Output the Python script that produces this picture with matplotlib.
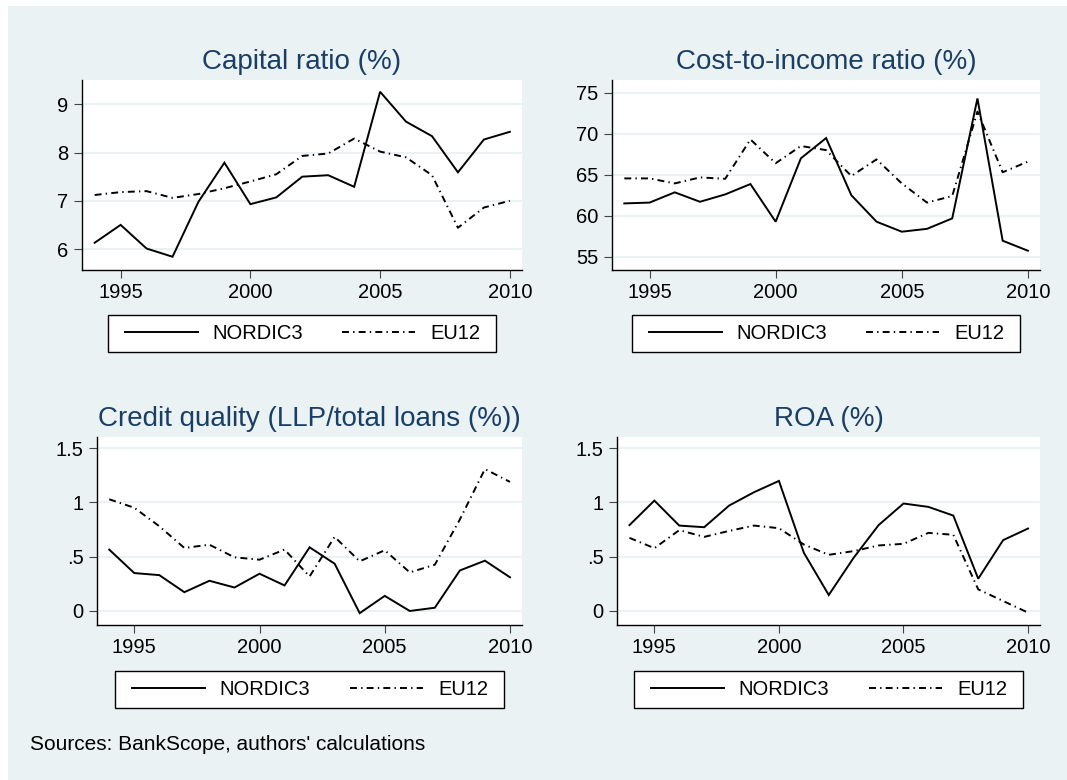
import numpy as np
import matplotlib
matplotlib.use("Agg")
import matplotlib.pyplot as plt
from matplotlib.lines import Line2D
from matplotlib.patches import Rectangle

# data
years = list(range(1994, 2011))

cap_nordic = [6.13, 6.50, 6.01, 5.84, 6.98, 7.79, 6.93, 7.07, 7.50, 7.53, 7.29, 9.26, 8.64, 8.34, 7.59, 8.27, 8.43]
cap_eu = [7.12, 7.18, 7.20, 7.06, 7.14, 7.26, 7.40, 7.55, 7.93, 7.98, 8.29, 8.02, 7.90, 7.53, 6.44, 6.86, 7.00]

cost_nordic = [61.5, 61.6, 62.85, 61.7, 62.6, 63.86, 59.27, 67.0, 69.47, 62.5, 59.27, 58.05, 58.4, 59.67, 74.3, 56.95, 55.73]
cost_eu = [64.55, 64.55, 63.94, 64.67, 64.5, 69.3, 66.4, 68.5, 68.0, 64.84, 66.87, 63.94, 61.6, 62.4, 72.7, 65.3, 66.6]

llp_nordic = [0.565, 0.349, 0.33, 0.173, 0.278, 0.216, 0.343, 0.235, 0.586, 0.435, -0.02, 0.139, 0.0, 0.03, 0.373, 0.463, 0.31]
llp_eu = [1.028, 0.95, 0.78, 0.58, 0.61, 0.494, 0.472, 0.565, 0.318, 0.682, 0.457, 0.559, 0.355, 0.426, 0.843, 1.306, 1.188]

roa_nordic = [0.79, 1.016, 0.786, 0.771, 0.97, 1.093, 1.197, 0.536, 0.147, 0.49, 0.79, 0.989, 0.958, 0.878, 0.297, 0.652, 0.759]
roa_eu = [0.673, 0.578, 0.744, 0.682, 0.737, 0.786, 0.762, 0.612, 0.517, 0.551, 0.603, 0.618, 0.719, 0.701, 0.199, 0.092, -0.015]

titles = ["Capital ratio (%)", "Cost-to-income ratio (%)",
          "Credit quality (LLP/total loans (%))", "ROA (%)"]
labels = ["NORDIC3", "EU12"]
xticks = [1995, 2000, 2005, 2010]

plt.rcParams['font.family'] = ['Liberation Sans', 'DejaVu Sans']
plt.rcParams['lines.scale_dashes'] = False

W, H = 1067, 780
bg = "#EAF2F3"
navy = "#1A3F66"
dashdot = (0, (5, 3, 1, 3))


def fbox(l, t, r, b):
    # pixel box -> figure fraction [x, y, w, h]
    return [l / W, 1 - b / H, (r - l) / W, (b - t) / H]


fig = plt.figure(figsize=(W / 100, H / 100), dpi=100)
fig.patch.set_facecolor("white")
fig.add_artist(Rectangle((8 / W, 0), 1, 1 - 6 / H, transform=fig.transFigure,
                         facecolor=bg, edgecolor="none", zorder=-10))

panels = [
    dict(pos=(81.7, 80, 522.3, 270), leg=(108, 314.7, 496, 351.7), ty=69.3,
         nord=cap_nordic, eu=cap_eu, ylim=(5.565, 9.504), yt=[6, 7, 8, 9], ytl=["6", "7", "8", "9"]),
    dict(pos=(611.7, 80, 1040, 270), leg=(632, 314.7, 1020, 351.7), ty=69.3,
         nord=cost_nordic, eu=cost_eu, ylim=(53.38, 76.55), yt=[55, 60, 65, 70, 75],
         ytl=["55", "60", "65", "70", "75"]),
    dict(pos=(96.7, 436.7, 522, 625), leg=(115, 670.7, 504, 708), ty=426,
         nord=llp_nordic, eu=llp_eu, ylim=(-0.129, 1.604), yt=[0, 0.5, 1, 1.5], ytl=["0", ".5", "1", "1.5"]),
    dict(pos=(617, 436.7, 1040, 625), leg=(634, 670.7, 1023, 708), ty=426,
         nord=roa_nordic, eu=roa_eu, ylim=(-0.129, 1.604), yt=[0, 0.5, 1, 1.5], ytl=["0", ".5", "1", "1.5"]),
]

for p, title in zip(panels, titles):
    ax = fig.add_axes(fbox(*p["pos"]))
    ax.set_facecolor("white")
    for yv in p["yt"]:
        ax.axhline(yv, color=bg, lw=1.5, zorder=0)
    ax.plot(years, p["nord"], color="black", lw=1.4, solid_joinstyle="miter")
    ax.plot(years, p["eu"], color="black", lw=1.4, linestyle=dashdot)
    ax.set_xlim(1993.5, 2010.48)
    ax.set_ylim(*p["ylim"])
    ax.set_xticks(xticks)
    ax.set_xticklabels([str(x) for x in xticks])
    ax.set_yticks(p["yt"])
    ax.set_yticklabels(p["ytl"])
    ax.tick_params(direction="out", length=6, width=0.8, color="#444444",
                   labelsize=14.5, pad=3.5)
    for s in ["top", "right"]:
        ax.spines[s].set_visible(False)
    for s in ["left", "bottom"]:
        ax.spines[s].set_color("black")
        ax.spines[s].set_linewidth(1.0)

    l, t, r, b = p["pos"]
    fig.text(((l + r) / 2) / W, 1 - p["ty"] / H, title, ha="center", va="baseline",
             fontsize=20, color=navy)

    # legend box
    ll, lt, lr, lb = p["leg"]
    bx = fbox(ll, lt, lr, lb)
    fig.add_artist(Rectangle((bx[0], bx[1]), bx[2], bx[3], transform=fig.transFigure,
                             facecolor="white", edgecolor="black", lw=1.0, zorder=-5))
    handles = [Line2D([], [], color="black", lw=1.4),
               Line2D([], [], color="black", lw=1.4, linestyle=dashdot)]
    ib = fbox(ll + 17, lt, lr - 16, lb)
    ax.legend(handles, labels, bbox_to_anchor=ib, bbox_transform=fig.transFigure,
              loc="center", mode="expand", ncol=2, frameon=False, fontsize=14.5,
              handlelength=3.6, handletextpad=0.75, borderpad=0, borderaxespad=0)

fig.text(30 / W, 1 - 750 / H, "Sources: BankScope, authors' calculations",
         ha="left", va="baseline", fontsize=15)

fig.savefig("out.png", dpi=100, facecolor=fig.get_facecolor())
